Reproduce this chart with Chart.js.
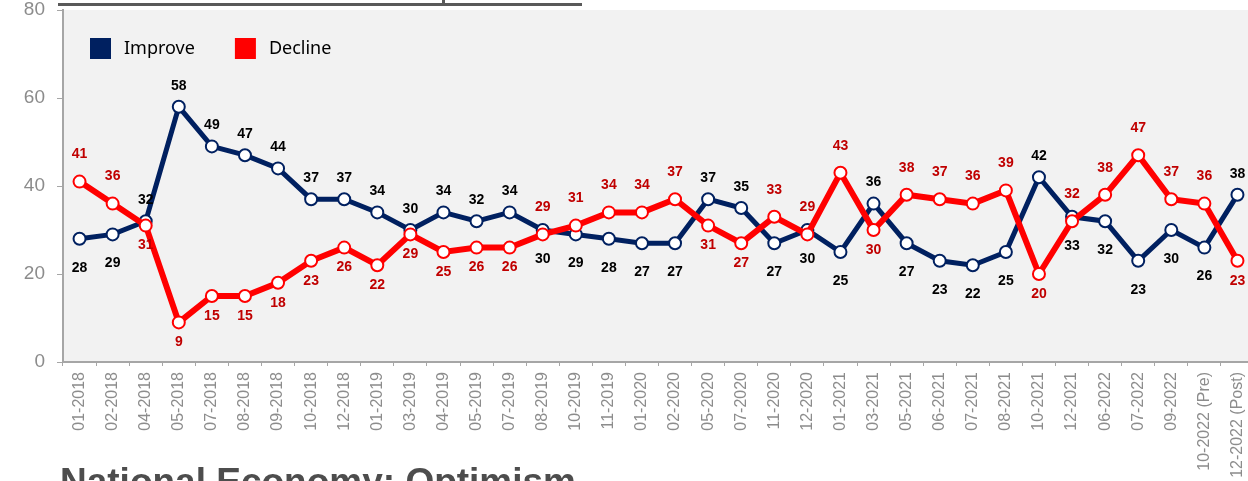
<!DOCTYPE html>
<html>
<head>
<meta charset="utf-8">
<title>National Economy: Optimism</title>
<script src="https://cdn.jsdelivr.net/npm/chart.js@4.4.1/dist/chart.umd.min.js"></script>
<style>
    html, body { margin: 0; padding: 0; background: #fff; overflow: hidden; }
    #wrap { position: relative; width: 1254px; height: 481px; }
</style>
</head>
<body>
<div id="wrap"><canvas id="grafico" width="1254" height="481"></canvas></div>
<script>
// Datos
const meses = [
    '01-2018', '02-2018', '04-2018', '05-2018', '07-2018', '08-2018', '09-2018', '10-2018', '12-2018',
    '01-2019', '03-2019', '04-2019', '05-2019', '07-2019', '08-2019', '10-2019', '11-2019',
    '01-2020', '02-2020', '05-2020', '07-2020', '11-2020', '12-2020',
    '01-2021', '03-2021', '05-2021', '06-2021', '07-2021', '08-2021', '10-2021', '12-2021',
    '06-2022', '07-2022', '09-2022', '10-2022 (Pre)', '12-2022 (Post)'
];
const mejora = [28, 29, 32, 58, 49, 47, 44, 37, 37, 34, 30, 34, 32, 34, 30, 29, 28, 27, 27, 37, 35, 27, 30, 25, 36, 27, 23, 22, 25, 42, 33, 32, 23, 30, 26, 38];
const deterioro = [41, 36, 31, 9, 15, 15, 18, 23, 26, 22, 29, 25, 26, 26, 29, 31, 34, 34, 37, 31, 27, 33, 29, 43, 30, 38, 37, 36, 39, 20, 32, 38, 47, 37, 36, 23];
const ticksY = [0, 20, 40, 60, 80];

// Posición de etiquetas: a = arriba, b = abajo
const posMejora = ['b','b','a','a','a','a','a','a','a','a','a','a','a','a','b','b','b','b','b','a','a','b','b','b','a','b','b','b','b','a','b','b','b','b','b','a'];
const posDeterioro = ['a','a','b','b','b','b','b','b','b','b','b','b','b','b','a','a','a','a','a','b','b','a','a','a','b','a','a','a','a','b','a','a','a','a','a','b'];

const AZUL = '#002060';
const ROJO = '#ff0000';
const fuente = '"Liberation Sans", Arial, sans-serif';

// Fondo gris del área de trazado
const fondoPlugin = {
    id: 'fondo',
    beforeDraw(chart) {
        const { ctx, chartArea: a } = chart;
        ctx.save();
        ctx.fillStyle = '#f2f2f2';
        ctx.fillRect(a.left, a.top, a.right - a.left, a.bottom - a.top);
        ctx.restore();
    }
};

// Etiquetas de valores
const etiquetasPlugin = {
    id: 'etiquetas',
    afterDatasetsDraw(chart) {
        const { ctx } = chart;
        ctx.save();
        ctx.font = 'bold 14px ' + fuente;
        ctx.textAlign = 'center';
        ctx.textBaseline = 'middle';
        chart.data.datasets.forEach((ds, i) => {
            const meta = chart.getDatasetMeta(i);
            meta.data.forEach((pt, j) => {
                const arriba = ds.posiciones[j] === 'a';
                const dy = arriba ? ds.offArriba : ds.offAbajo;
                ctx.fillStyle = ds.colorEtiqueta;
                ctx.fillText(String(ds.data[j]), pt.x, pt.y + dy);
            });
        });
        ctx.restore();
    }
};

// Leyenda dentro del área y elementos del título
const decoPlugin = {
    id: 'deco',
    afterDraw(chart) {
        const { ctx, chartArea: a } = chart;
        ctx.save();
        // leyenda
        let x = a.left + 27;
        const y = a.top + 28;
        ctx.font = '18px "Noto Sans", "Open Sans", sans-serif';
        ctx.textBaseline = 'middle';
        ctx.textAlign = 'left';
        chart.data.datasets.forEach(ds => {
            ctx.fillStyle = ds.borderColor;
            ctx.fillRect(x, y, 21, 21);
            ctx.fillStyle = '#000';
            ctx.fillText(ds.label, x + 34, y + 11);
            x += 34 + ctx.measureText(ds.label).width + 40;
        });
        // línea superior (resto del título de arriba)
        ctx.fillStyle = '#595959';
        ctx.fillRect(58, 3, 524, 3);
        ctx.fillRect(442, 0, 3, 5);
        // título inferior cortado
        ctx.fillStyle = '#4d4d4d';
        ctx.font = 'bold 37px ' + fuente;
        ctx.textBaseline = 'alphabetic';
        ctx.fillText('National Economy: Optimism', 60, 494);
        ctx.restore();
    }
};

const ctx = document.getElementById('grafico').getContext('2d');
new Chart(ctx, {
    type: 'line',
    data: {
        labels: meses,
        datasets: [
            {
                label: 'Improve',
                data: mejora,
                borderColor: AZUL,
                backgroundColor: '#ffffff',
                pointBackgroundColor: '#ffffff',
                pointBorderColor: AZUL,
                borderWidth: 5,
                pointRadius: 6,
                pointBorderWidth: 2,
                tension: 0,
                order: 2,
                posiciones: posMejora,
                offArriba: -21,
                offAbajo: 29,
                colorEtiqueta: '#000000'
            },
            {
                label: 'Decline',
                data: deterioro,
                borderColor: ROJO,
                backgroundColor: '#ffffff',
                pointBackgroundColor: '#ffffff',
                pointBorderColor: ROJO,
                borderWidth: 6,
                pointRadius: 6,
                pointBorderWidth: 2,
                tension: 0,
                order: 1,
                posiciones: posDeterioro,
                offArriba: -27,
                offAbajo: 20,
                colorEtiqueta: '#c00000'
            }
        ]
    },
    options: {
        responsive: false,
        animation: false,
        layout: { autoPadding: false, padding: { left: 0, top: 10, right: 0, bottom: 0 } },
        plugins: {
            legend: { display: false },
            tooltip: { enabled: false }
        },
        scales: {
            x: {
                offset: true,
                grid: { drawOnChartArea: false, drawTicks: true, tickLength: 4, color: '#a6a6a6', offset: true },
                border: { color: '#a6a6a6', width: 2 },
                ticks: {
                    minRotation: 90,
                    maxRotation: 90,
                    autoSkip: false,
                    padding: 6,
                    color: '#8c8c8c',
                    font: { family: fuente, size: 16 }
                },
                afterFit(scale) {
                    scale.height = 119;
                    scale.paddingLeft = 0;
                    scale.paddingRight = 0;
                }
            },
            y: {
                min: 0,
                max: 80,
                afterBuildTicks(scale) { scale.ticks = ticksY.map(v => ({ value: v })); },
                grid: { drawOnChartArea: false, drawTicks: true, tickLength: 6, color: '#a6a6a6' },
                border: { color: '#a6a6a6', width: 2 },
                ticks: {
                    padding: 12,
                    color: '#8c8c8c',
                    font: { family: fuente, size: 19 }
                },
                afterFit(scale) {
                    scale.width = 63;
                    scale.paddingTop = 0;
                    scale.paddingBottom = 0;
                }
            }
        }
    },
    plugins: [fondoPlugin, etiquetasPlugin, decoPlugin]
});
</script>
</body>
</html>
